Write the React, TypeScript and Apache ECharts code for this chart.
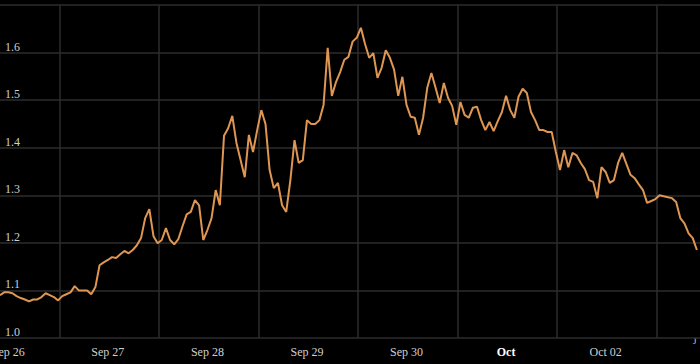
import React, { useEffect, useRef } from "react";
import * as echarts from "echarts";

// Hourly values, first point at Sep 25 22:00 (hour -2 relative to Sep 26 00:00)
const START_HOUR = -2;
const values: number[] = [
  1.090, 1.096, 1.096, 1.094, 1.088, 1.084, 1.081, 1.077, 1.081, 1.081,
  1.086, 1.094, 1.090, 1.086, 1.079, 1.088, 1.092, 1.096, 1.109, 1.100,
  1.100, 1.100, 1.092, 1.107, 1.153, 1.159, 1.164, 1.170, 1.168, 1.176,
  1.183, 1.178, 1.185, 1.195, 1.210, 1.252, 1.271, 1.214, 1.199, 1.206,
  1.231, 1.206, 1.197, 1.208, 1.235, 1.260, 1.265, 1.290, 1.279, 1.206,
  1.227, 1.252, 1.311, 1.279, 1.425, 1.441, 1.467, 1.410, 1.374, 1.338,
  1.427, 1.391, 1.437, 1.479, 1.450, 1.353, 1.315, 1.326, 1.279, 1.265,
  1.332, 1.416, 1.368, 1.374, 1.458, 1.450, 1.450, 1.458, 1.490, 1.610,
  1.509, 1.538, 1.559, 1.585, 1.591, 1.623, 1.631, 1.652, 1.618, 1.589,
  1.599, 1.547, 1.568, 1.605, 1.589, 1.564, 1.509, 1.549, 1.490, 1.465,
  1.463, 1.427, 1.463, 1.526, 1.557, 1.526, 1.494, 1.536, 1.505, 1.488,
  1.448, 1.496, 1.469, 1.463, 1.484, 1.486, 1.458, 1.437, 1.454, 1.435,
  1.456, 1.475, 1.509, 1.479, 1.463, 1.507, 1.524, 1.515, 1.475, 1.458,
  1.437, 1.437, 1.433, 1.433, 1.391, 1.353, 1.395, 1.359, 1.389, 1.384,
  1.368, 1.355, 1.332, 1.328, 1.294, 1.359, 1.349, 1.326, 1.332, 1.368,
  1.389, 1.366, 1.343, 1.336, 1.323, 1.311, 1.284, 1.288, 1.292, 1.300,
  1.298, 1.296, 1.294, 1.286, 1.252, 1.241, 1.220, 1.210, 1.185,
];

// Day labels at midnight (hours from Sep 26 00:00)
const dayLabels: string[] = ["Sep 26", "Sep 27", "Sep 28", "Sep 29", "Sep 30", "Oct", "Oct 02"];
const boldLabels: string[] = ["Oct"];
const labelHours: number[] = [0, 24, 48, 72, 96, 120, 144];
// Vertical grid lines fall around midday
const gridHours: number[] = [12.3, 36.3, 60.3, 84.3, 108.3, 132.3, 156.3];
const yTicks: number[] = [1.0, 1.1, 1.2, 1.3, 1.4, 1.5, 1.6];

const FONT = "'Liberation Serif', 'Times New Roman', serif";

export default function App() {
  const ref = useRef<HTMLDivElement>(null);
  useEffect(() => {
    if (!ref.current) return;
    document.body.style.margin = "0";
    document.body.style.background = "#000";
    const chart = echarts.init(ref.current, null, { renderer: "svg" });
    const data = values.map((v, i) => [START_HOUR + i, v]);
    chart.setOption({
      animation: false,
      backgroundColor: "#000",
      grid: { left: 0, right: 0, top: 5, bottom: 26, containLabel: false, outerBoundsMode: "none" },
      xAxis: {
        type: "value",
        min: START_HOUR,
        max: 166.75,
        axisLine: { show: false },
        axisTick: { show: false, customValues: gridHours },
        splitLine: { show: true, lineStyle: { color: "#2c2c2c", width: 1.5 } },
        axisLabel: {
          customValues: labelHours,
          showMinLabel: true,
          showMaxLabel: true,
          hideOverlap: false,
          margin: 8,
          color: "#cfcfcf",
          fontSize: 12,
          fontFamily: FONT,
          formatter: (v: number) => {
            const idx = Math.round(v / 24);
            const s = dayLabels[idx] ?? "";
            return boldLabels.includes(s) ? `{b|${s}}` : s;
          },
          rich: {
            b: { color: "#ffffff", fontWeight: "bold", fontSize: 12, fontFamily: FONT },
          },
        },
      },
      yAxis: {
        type: "value",
        min: 1.0,
        max: 1.7,
        interval: 0.1,
        axisLine: { show: false },
        axisTick: { show: false },
        splitLine: { show: true, lineStyle: { color: "#2c2c2c", width: 1.5 } },
        axisLabel: {
          inside: true,
          margin: 5,
          verticalAlign: "bottom",
          color: "#cfcfcf",
          fontSize: 12,
          fontFamily: FONT,
          showMaxLabel: false,
          formatter: (v: number) => {
            const hit = yTicks.find((t) => Math.abs(t - v) < 1e-6);
            return hit === undefined ? "" : hit.toFixed(1);
          },
        },
      },
      graphic: [
        {
          type: "text",
          left: 693,
          top: 336,
          style: { text: "J", fill: "#cfcfcf", fontSize: 9, fontFamily: FONT },
        },
      ],
      series: [
        {
          type: "line",
          data,
          showSymbol: false,
          symbol: "none",
          lineStyle: { color: "#df9652", width: 2 },
          itemStyle: { color: "#df9652" },
        },
      ],
    });
    return () => chart.dispose();
  }, []);
  return (
    <div
      ref={ref}
      style={{ position: "fixed", left: 0, top: 0, width: 700, height: 364, background: "#000" }}
    />
  );
}
